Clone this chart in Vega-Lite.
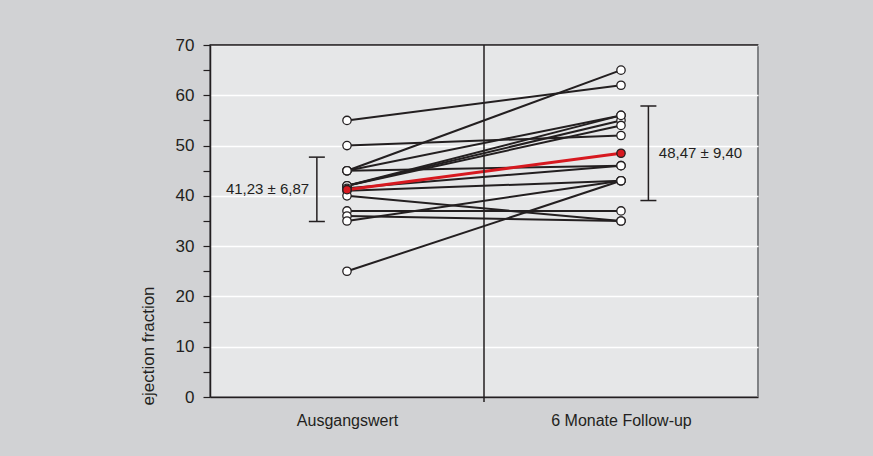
{
  "$schema": "https://vega.github.io/schema/vega-lite/v6.json",
  "width": 548,
  "height": 352,
  "autosize": {"type": "none"},
  "padding": {"left": 210, "top": 45, "right": 115, "bottom": 59},
  "background": "#d1d2d4",
  "config": {
    "view": {"fill": "#e6e7e8", "stroke": "#808285", "strokeWidth": 2},
    "font": "Liberation Sans Narrow, Liberation Sans, sans-serif"
  },
  "resolve": {"axis": {"x": "independent", "y": "independent"}},
  "datasets": {
    "patients": [
      {"id": 1, "phase": 0, "ef": 55}, {"id": 1, "phase": 1, "ef": 62},
      {"id": 2, "phase": 0, "ef": 50}, {"id": 2, "phase": 1, "ef": 52},
      {"id": 3, "phase": 0, "ef": 45}, {"id": 3, "phase": 1, "ef": 65},
      {"id": 4, "phase": 0, "ef": 45}, {"id": 4, "phase": 1, "ef": 56},
      {"id": 5, "phase": 0, "ef": 45}, {"id": 5, "phase": 1, "ef": 46},
      {"id": 6, "phase": 0, "ef": 42}, {"id": 6, "phase": 1, "ef": 55},
      {"id": 7, "phase": 0, "ef": 42}, {"id": 7, "phase": 1, "ef": 54},
      {"id": 8, "phase": 0, "ef": 42}, {"id": 8, "phase": 1, "ef": 56},
      {"id": 9, "phase": 0, "ef": 41.5}, {"id": 9, "phase": 1, "ef": 46},
      {"id": 10, "phase": 0, "ef": 41}, {"id": 10, "phase": 1, "ef": 43},
      {"id": 11, "phase": 0, "ef": 40}, {"id": 11, "phase": 1, "ef": 35},
      {"id": 12, "phase": 0, "ef": 37}, {"id": 12, "phase": 1, "ef": 37},
      {"id": 13, "phase": 0, "ef": 36}, {"id": 13, "phase": 1, "ef": 35},
      {"id": 14, "phase": 0, "ef": 35}, {"id": 14, "phase": 1, "ef": 43},
      {"id": 15, "phase": 0, "ef": 25}, {"id": 15, "phase": 1, "ef": 43}
    ],
    "mean": [
      {"phase": 0, "ef": 41.23}, {"phase": 1, "ef": 48.47}
    ],
    "sd": [
      {"phase": -0.11, "lo": 34.9, "hi": 47.7, "tx": -0.29, "ty": 41.3, "label": "41,23 ± 6,87"},
      {"phase": 1.1, "lo": 39.07, "hi": 57.87, "tx": 1.29, "ty": 48.6, "label": "48,47 ± 9,40"}
    ]
  },
  "layer": [
    {
      "data": {"name": "patients"},
      "mark": {"type": "line", "color": "#231f20", "strokeWidth": 2},
      "encoding": {
        "x": {
          "field": "phase", "type": "quantitative",
          "scale": {"domain": [-0.5, 1.5], "nice": false, "zero": false},
          "axis": {
            "title": null, "values": [0, 1], "grid": false, "ticks": false,
            "labelExpr": "datum.value == 0 ? 'Ausgangswert' : '6 Monate Follow-up'",
            "labelFontSize": 16, "labelColor": "#231f20", "labelPadding": 15,
            "domainColor": "#231f20", "domainWidth": 1.5
          }
        },
        "y": {
          "field": "ef", "type": "quantitative",
          "scale": {"domain": [0, 70], "nice": false},
          "axis": {
            "title": "ejection fraction",
            "titleFontSize": 17, "titleFontWeight": "normal", "titleColor": "#231f20",
            "titleAngle": -90, "titleAlign": "left", "titleBaseline": "middle",
            "titleX": -62, "titleY": 360,
            "values": [0, 5, 10, 15, 20, 25, 30, 35, 40, 45, 50, 55, 60, 65, 70],
            "labelExpr": "datum.value % 10 == 0 ? datum.label : ''",
            "labelFontSize": 17, "labelColor": "#231f20", "labelPadding": 9,
            "tickSize": 7, "tickColor": "#231f20", "tickWidth": 1.2,
            "domainColor": "#231f20", "domainWidth": 1.5,
            "grid": true, "gridColor": "#ffffff", "gridWidth": 1.5,
            "gridOpacity": {"condition": {"test": "datum.value % 10 == 0", "value": 1}, "value": 0}
          }
        },
        "detail": {"field": "id"}
      }
    },
    {
      "data": {"name": "mean"},
      "mark": {"type": "line", "color": "#d71920", "strokeWidth": 3},
      "encoding": {
        "x": {"field": "phase", "type": "quantitative", "axis": null},
        "y": {"field": "ef", "type": "quantitative", "axis": null}
      }
    },
    {
      "data": {"name": "patients"},
      "mark": {"type": "point", "filled": true, "fill": "#ffffff", "stroke": "#231f20", "strokeWidth": 1.3, "size": 70, "opacity": 1},
      "encoding": {
        "x": {"field": "phase", "type": "quantitative", "axis": null},
        "y": {"field": "ef", "type": "quantitative", "axis": null}
      }
    },
    {
      "data": {"name": "mean"},
      "mark": {"type": "point", "filled": true, "fill": "#d71920", "stroke": "#231f20", "strokeWidth": 1.3, "size": 70, "opacity": 1},
      "encoding": {
        "x": {"field": "phase", "type": "quantitative", "axis": null},
        "y": {"field": "ef", "type": "quantitative", "axis": null}
      }
    },
    {
      "data": {"name": "sd"},
      "mark": {"type": "rule", "color": "#231f20", "strokeWidth": 1.5},
      "encoding": {
        "x": {"field": "phase", "type": "quantitative", "axis": null},
        "y": {"field": "lo", "type": "quantitative", "axis": null},
        "y2": {"field": "hi"}
      }
    },
    {
      "data": {"name": "sd"},
      "mark": {"type": "tick", "orient": "horizontal", "color": "#231f20", "size": 16, "thickness": 1.5, "opacity": 1},
      "encoding": {
        "x": {"field": "phase", "type": "quantitative", "axis": null},
        "y": {"field": "lo", "type": "quantitative", "axis": null}
      }
    },
    {
      "data": {"name": "sd"},
      "mark": {"type": "tick", "orient": "horizontal", "color": "#231f20", "size": 16, "thickness": 1.5, "opacity": 1},
      "encoding": {
        "x": {"field": "phase", "type": "quantitative", "axis": null},
        "y": {"field": "hi", "type": "quantitative", "axis": null}
      }
    },
    {
      "data": {"name": "sd"},
      "mark": {"type": "text", "fontSize": 15, "color": "#231f20", "align": "center", "baseline": "middle"},
      "encoding": {
        "x": {"field": "tx", "type": "quantitative", "axis": null},
        "y": {"field": "ty", "type": "quantitative", "axis": null},
        "text": {"field": "label"}
      }
    },
    {
      "data": {"values": [{}]},
      "mark": {"type": "rule", "color": "#231f20", "strokeWidth": 1.5},
      "encoding": {
        "x": {"datum": 0.5, "type": "quantitative", "axis": null},
        "y": {"datum": 70, "type": "quantitative", "axis": null},
        "y2": {"datum": -1}
      }
    },
    {
      "data": {"values": [{}]},
      "mark": {"type": "rule", "color": "#231f20", "strokeWidth": 1.5},
      "encoding": {
        "x": {"datum": -0.5, "type": "quantitative", "axis": null},
        "x2": {"datum": 1.5},
        "y": {"datum": 70, "type": "quantitative", "axis": null}
      }
    }
  ]
}
